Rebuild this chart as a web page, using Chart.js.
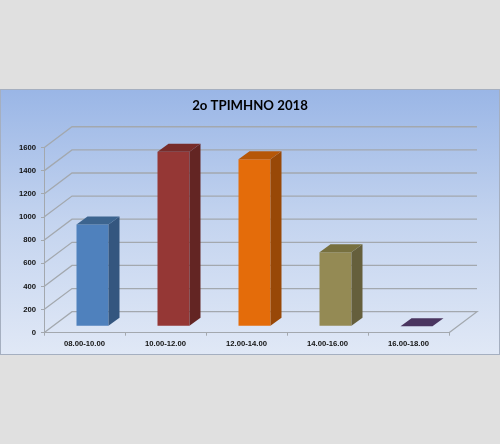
<!DOCTYPE html>
<html>
<head>
<meta charset="utf-8">
<style>
html, body { margin: 0; padding: 0; background: #e0e0e0; }
#panel { position: absolute; left: 0; top: 89px; width: 500px; height: 266px; box-sizing: border-box;
  border: 1px solid #a5afc0; background: linear-gradient(#9ab6e6, #c4d4ef 50%, #e0e8f6); }
canvas { position: absolute; left: 0; top: 0; }
</style>
<script src="https://cdn.jsdelivr.net/npm/chart.js@4/dist/chart.umd.min.js"></script>
</head>
<body>
<div id="panel"></div>
<canvas id="myChart" width="500" height="444"></canvas>
<script>
const titleText = '2o ΤΡΙΜΗΝΟ 2018';
const categories = ['08.00-10.00', '10.00-12.00', '12.00-14.00', '14.00-16.00', '16.00-18.00'];
const seriesValues = [880, 1510, 1445, 640, 0];

const frontColors = ['#4f81bd', '#953735', '#e46c0a', '#948a54', '#4a3560'];
const sideColors = ['#34567f', '#632523', '#984807', '#655f3c', '#3a2a4c'];
const topColors = ['#3c648f', '#772c2a', '#b65708', '#77703f', '#4a3560'];

const gridColor = '#a3a8ae';
const wallDx = 28, wallDy = 21;    // depth of the back wall
const barDx = 8, barDy = 6.4;      // bars stand in the middle of the floor
const sideDx = 11, sideDy = 8;     // depth of a bar

const box3d = {
    id: 'box3d',
    beforeDatasetsDraw(chart) {
        const { ctx, scales: { x, y } } = chart;
        const left = x.left, right = x.right;
        ctx.save();
        ctx.strokeStyle = gridColor;
        ctx.lineWidth = 1.3;
        y.ticks.forEach(t => {
            const py = y.getPixelForValue(t.value);
            ctx.beginPath();
            ctx.moveTo(left, py);
            ctx.lineTo(left + wallDx, py - wallDy);
            ctx.lineTo(right + wallDx, py - wallDy);
            if (t.value === 0) {
                ctx.lineTo(right, py);
            }
            ctx.stroke();
        });
        ctx.restore();

        // the library's bars get moved back onto the floor
        ctx.save();
        ctx.translate(barDx, -barDy);
    },
    afterDatasetsDraw(chart) {
        const { ctx } = chart;
        const bars = chart.getDatasetMeta(0).data;
        bars.forEach((bar, i) => {
            const x0 = bar.x - bar.width / 2, x1 = bar.x + bar.width / 2;
            const top = bar.y, base = bar.base;
            if (base - top > 0.5) {
                ctx.fillStyle = sideColors[i];
                ctx.beginPath();
                ctx.moveTo(x1, top);
                ctx.lineTo(x1 + sideDx, top - sideDy);
                ctx.lineTo(x1 + sideDx, base - sideDy);
                ctx.lineTo(x1, base);
                ctx.closePath();
                ctx.fill();
            }
            ctx.fillStyle = topColors[i];
            ctx.beginPath();
            ctx.moveTo(x0, top);
            ctx.lineTo(x0 + sideDx, top - sideDy);
            ctx.lineTo(x1 + sideDx, top - sideDy);
            ctx.lineTo(x1, top);
            ctx.closePath();
            ctx.fill();
        });
        ctx.restore();
    }
};

const tickFont = { family: 'Liberation Sans', size: 7.7, weight: 'bold' };

new Chart(document.getElementById('myChart').getContext('2d'), {
    type: 'bar',
    data: {
        labels: categories,
        datasets: [{
            data: seriesValues,
            backgroundColor: frontColors,
            borderWidth: 0,
            barPercentage: 0.395,
            categoryPercentage: 1
        }]
    },
    options: {
        responsive: false,
        animation: false,
        plugins: {
            legend: { display: false },
            tooltip: { enabled: false },
            title: {
                display: true,
                text: titleText,
                color: '#000',
                font: { family: 'Lato', size: 13.2, weight: 'bold', lineHeight: 1.2 },
                padding: { top: 97.5, bottom: 34.4 }
            }
        },
        scales: {
            x: {
                grid: { drawOnChartArea: false, color: gridColor, tickLength: 3 },
                border: { color: gridColor },
                ticks: { color: '#111', font: tickFont, maxRotation: 0, autoSkip: false, padding: 4 },
                afterFit(scale) { scale.height = 111.3; }
            },
            y: {
                min: 0,
                max: 1600,
                grid: { drawOnChartArea: false, color: gridColor, tickLength: 3 },
                border: { color: gridColor },
                ticks: { stepSize: 200, color: '#111', font: tickFont, padding: 5, callback: v => String(v) },
                afterFit(scale) { scale.width = 44; }
            },
            // empty axis keeps the plot clear of the right side, title stays centred on the page
            spacer: {
                type: 'linear',
                axis: 'y',
                position: 'right',
                grid: { display: false },
                border: { display: false },
                ticks: { display: false },
                afterFit(scale) { scale.width = 51; }
            }
        }
    },
    plugins: [box3d]
});
</script>
</body>
</html>
